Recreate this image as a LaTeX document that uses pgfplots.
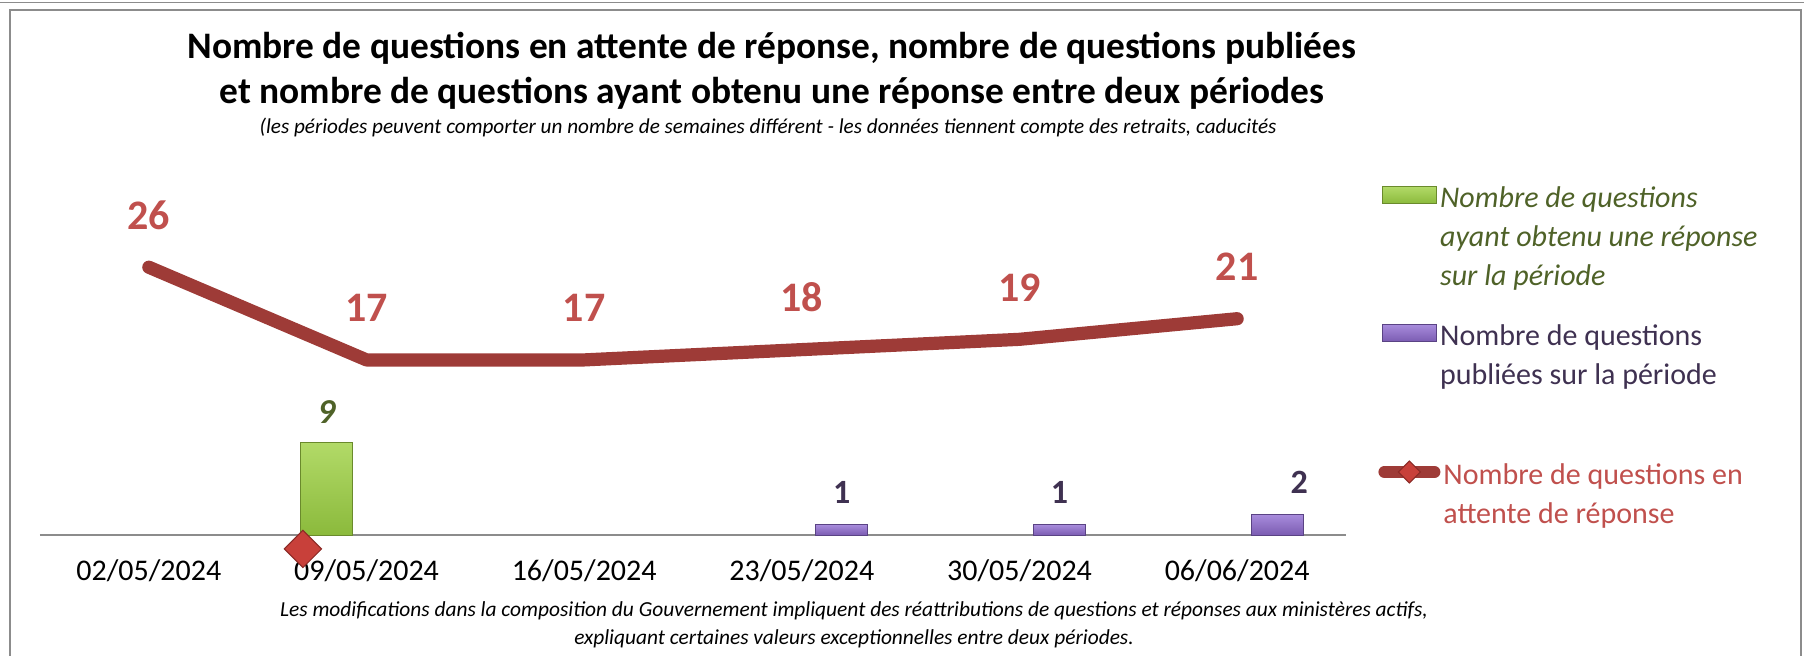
\documentclass[border=0pt]{standalone}
\usepackage{pgfplots}
\pgfplotsset{compat=1.18}
\usepackage{fontspec}
\setmainfont{Carlito}
\definecolor{lineRed}{HTML}{9E3B37}
\definecolor{lblRed}{HTML}{C0504D}
\definecolor{grnTxt}{HTML}{4F6228}
\definecolor{purTxt}{HTML}{3F3151}
\definecolor{grnTop}{HTML}{B2DA68}
\definecolor{grnBot}{HTML}{8BBA3C}
\definecolor{grnEdge}{HTML}{6A8A2C}
\definecolor{purTop}{HTML}{A88CDC}
\definecolor{purBot}{HTML}{7B5CB2}
\definecolor{purEdge}{HTML}{5A4384}
\definecolor{diaRed}{HTML}{C8403A}
\definecolor{diaEdge}{HTML}{8A2A26}
\definecolor{frameGray}{HTML}{8C8C8C}
\pgfplotsset{
  frame axis/.style={at={(20pt,-267.5pt)}, anchor=south west,
    scale only axis, width=653pt, height=154.5pt,
    xmin=-0.5, xmax=5.5, ymin=0, ymax=30, clip=false},
  my legend/.style={legend cell align=left,
    legend style={at={(rel axis cs:#1)}, anchor=north west, draw=none, fill=none,
      inner sep=0pt, font=\fontsize{15}{19.5}\selectfont, nodes={inner sep=1.5pt}}},
}
\begin{document}
\begin{tikzpicture}
\useasboundingbox (0,0) rectangle (902pt,-327.5pt);
\draw[frameGray, line width=0.8pt] (0,-1.2pt) -- (902pt,-1.2pt);
\draw[frameGray, line width=0.9pt] (5pt,-330pt) -- (5pt,-5pt) -- (900.5pt,-5pt) -- (900.5pt,-330pt);
\node[font=\fontsize{18.7}{23}\selectfont\bfseries] at (386pt,-24pt) {Nombre de questions en attente de réponse, nombre de questions publiées};
\node[font=\fontsize{18.7}{23}\selectfont\bfseries] at (386pt,-46.7pt) {et nombre de questions ayant obtenu une réponse entre deux périodes};
\node[font=\fontsize{10.6}{13}\selectfont\itshape] at (384pt,-63.5pt) {(les périodes peuvent comporter un nombre de semaines différent - les données tiennent compte des retraits, caducités};
\node[font=\fontsize{10.7}{13}\selectfont\itshape] at (427pt,-305.5pt) {Les modifications dans la composition du Gouvernement impliquent des réattributions de questions et réponses aux ministères actifs,};
\node[font=\fontsize{10.7}{13}\selectfont\itshape] at (427pt,-319.5pt) {expliquant certaines valeurs exceptionnelles entre deux périodes.};
\begin{axis}[
  frame axis,
  axis y line=none, axis x line*=bottom,
  x axis line style={draw=frameGray, line width=1pt},
  xtick={0,1,2,3,4,5},
  xticklabels={02/05/2024,09/05/2024,16/05/2024,23/05/2024,30/05/2024,06/06/2024},
  major tick length=0pt,
  xticklabel style={font=\fontsize{15}{18}\selectfont, anchor=center, yshift=-18pt},
  /pgf/number format/assume math mode=true,
  my legend={1.0275,1.1605},
]
\addplot[ybar, bar width=26pt, bar shift=-20pt, draw=grnEdge, top color=grnTop, bottom color=grnBot,
  nodes near coords,
  every node near coord/.append style={anchor=center, xshift=-20pt, yshift=15pt, text=grnTxt, font=\fontsize{17.5}{20}\selectfont\bfseries\itshape},
  legend image code/.code={\draw[draw=grnEdge, top color=grnTop, bottom color=grnBot] (0pt,-4.25pt) rectangle (27pt,4.25pt);}]
  coordinates {(1,9)};
\addlegendentry{{\color{grnTxt}\itshape\begin{tabular}[t]{@{}l@{}}Nombre de questions\\ayant obtenu une réponse\\sur la période\end{tabular}}}
\addplot[ybar, bar width=26pt, bar shift=20pt, draw=purEdge, top color=purTop, bottom color=purBot,
  nodes near coords, forget plot,
  every node near coord/.append style={anchor=center, xshift=20pt, yshift=16pt, text=purTxt, font=\fontsize{17}{20}\selectfont\bfseries}]
  coordinates {(3,1) (4,1)};
\addplot[ybar, bar width=26pt, bar shift=20pt, draw=purEdge, top color=purTop, bottom color=purBot,
  nodes near coords, forget plot,
  every node near coord/.append style={anchor=center, xshift=31pt, yshift=16pt, text=purTxt, font=\fontsize{17}{20}\selectfont\bfseries}]
  coordinates {(5,2)};
\addplot[lineRed, line width=6.6pt, line cap=round, line join=round, mark=none,
  nodes near coords, forget plot,
  every node near coord/.append style={anchor=center, yshift=26pt, text=lblRed, font=\fontsize{21}{24}\selectfont\bfseries}]
  coordinates {(0,26) (1,17) (2,17) (3,18) (4,19) (5,21)};
\addplot[only marks, mark=square*, mark size=6.6pt, forget plot,
  mark options={rotate=45, fill=diaRed, draw=diaEdge, line width=0.5pt}]
  coordinates {(0.708,-1.35)};
\end{axis}
\begin{axis}[frame axis, hide axis, my legend={1.0275,0.714}]
\addlegendimage{legend image code/.code={\draw[draw=purEdge, top color=purTop, bottom color=purBot] (0pt,-4.25pt) rectangle (27pt,4.25pt);}}
\addlegendentry{{\color{purTxt}\begin{tabular}[t]{@{}l@{}}Nombre de questions\\publiées sur la période\end{tabular}}}
\end{axis}
\begin{axis}[frame axis, hide axis, my legend={1.0245,0.264}]
\addlegendimage{legend image code/.code={\draw[lineRed, line width=6pt, line cap=round] (0pt,0pt) -- (25pt,0pt);
    \fill[diaRed, draw=diaEdge, line width=0.5pt] (12.5pt,5.5pt) -- (18pt,0pt) -- (12.5pt,-5.5pt) -- (7pt,0pt) -- cycle;}}
\addlegendentry{{\color{lblRed}\begin{tabular}[t]{@{}l@{}}Nombre de questions en\\attente de réponse\end{tabular}}}
\end{axis}
\end{tikzpicture}
\end{document}
